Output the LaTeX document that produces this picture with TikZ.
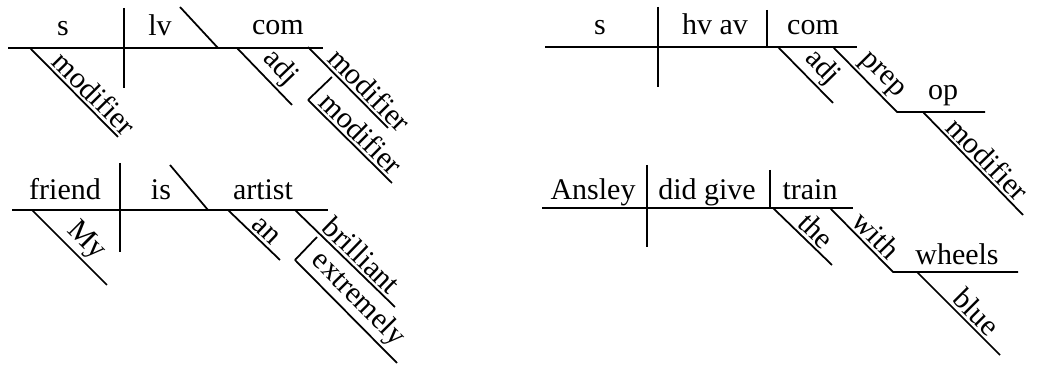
\documentclass[tikz,border=0pt]{standalone}
\usepackage{fontspec}
\setmainfont{Liberation Serif}

\begin{document}
\begin{tikzpicture}[x=0.4pt, y=-0.4pt, line width=0.7pt,
  word/.style={anchor=base, font=\fontsize{12}{14}\selectfont},
  tilt/.style={sloped, above, inner sep=1pt, font=\fontsize{12}{14}\selectfont}]
\useasboundingbox (0,0) rectangle (1048,365);

% s | lv \ com
\draw (8,48) -- (323,48);
\draw (124,8) -- (124,88);
\draw (180,7) -- (218,48);
\node[word] (s1) at (63,36) {s};
\node[word] (lv1) at (160,36) {lv};
\node[word] (com1) at (278,35) {com};
\draw (30,48) -- node[tilt, pos=0.62] (mod1) {modifier} (118,137);
\draw (237,48) -- node[tilt, pos=0.56] (adj1) {adj} (292,105);
\draw (308,47) -- node[tilt, pos=0.65] (mod2) {modifier} (388,128);
\draw (332,77) -- (308,100);
\draw (308,100) -- node[tilt, pos=0.52] (mod3) {modifier} (392,183);

% friend | is \ artist
\draw (12,210) -- (328,210);
\draw (120,163) -- (120,252);
\draw (170,165) -- (208,210);
\node[word] (friend) at (65,200) {friend};
\node[word] (is) at (161,200) {is};
\node[word] (artist) at (263,200) {artist};
\draw (32,210) -- node[tilt, pos=0.57] (my) {My} (107,285);
\draw (228,210) -- node[tilt, pos=0.58] (an) {an} (280,260);
\draw (295,210) -- node[tilt, pos=0.57] (brill) {brilliant} (395,307);
\draw (317,237) -- (295,260);
\draw (295,260) -- node[tilt, pos=0.5] (extr) {extremely} (397,363);

% s | hv av | com
\draw (545,47) -- (857,47);
\draw (658,7) -- (658,87);
\draw (767,10) -- (767,47);
\node[word] (s2) at (600,35) {s};
\node[word] (hvav) at (715,35) {hv av};
\node[word] (com2) at (813,35) {com};
\draw (778,47) -- node[tilt, pos=0.58] (adj2) {adj} (833,103);
\draw (833,47) -- node[tilt, pos=0.6] (prep) {prep} (897,112) -- (985,112);
\node[word] (op) at (943,100) {op};
\draw (923,112) -- node[tilt, pos=0.55] (mod4) {modifier} (1023,215);

% Ansley | did give | train
\draw (542,208) -- (853,208);
\draw (647,165) -- (647,247);
\draw (770,170) -- (770,208);
\node[word] (ansley) at (593,200) {Ansley};
\node[word] (didgive) at (707,200) {did give};
\node[word] (train) at (810,200) {train};
\draw (773,208) -- node[tilt, pos=0.57] (the) {the} (832,265);
\draw (830,208) -- node[tilt, pos=0.58] (with) {with} (893,272) -- (1018,272);
\node[word] (wheels) at (957,265) {wheels};
\draw (917,272) -- node[tilt, pos=0.6] (blue) {blue} (1000,355);
\end{tikzpicture}
\end{document}
